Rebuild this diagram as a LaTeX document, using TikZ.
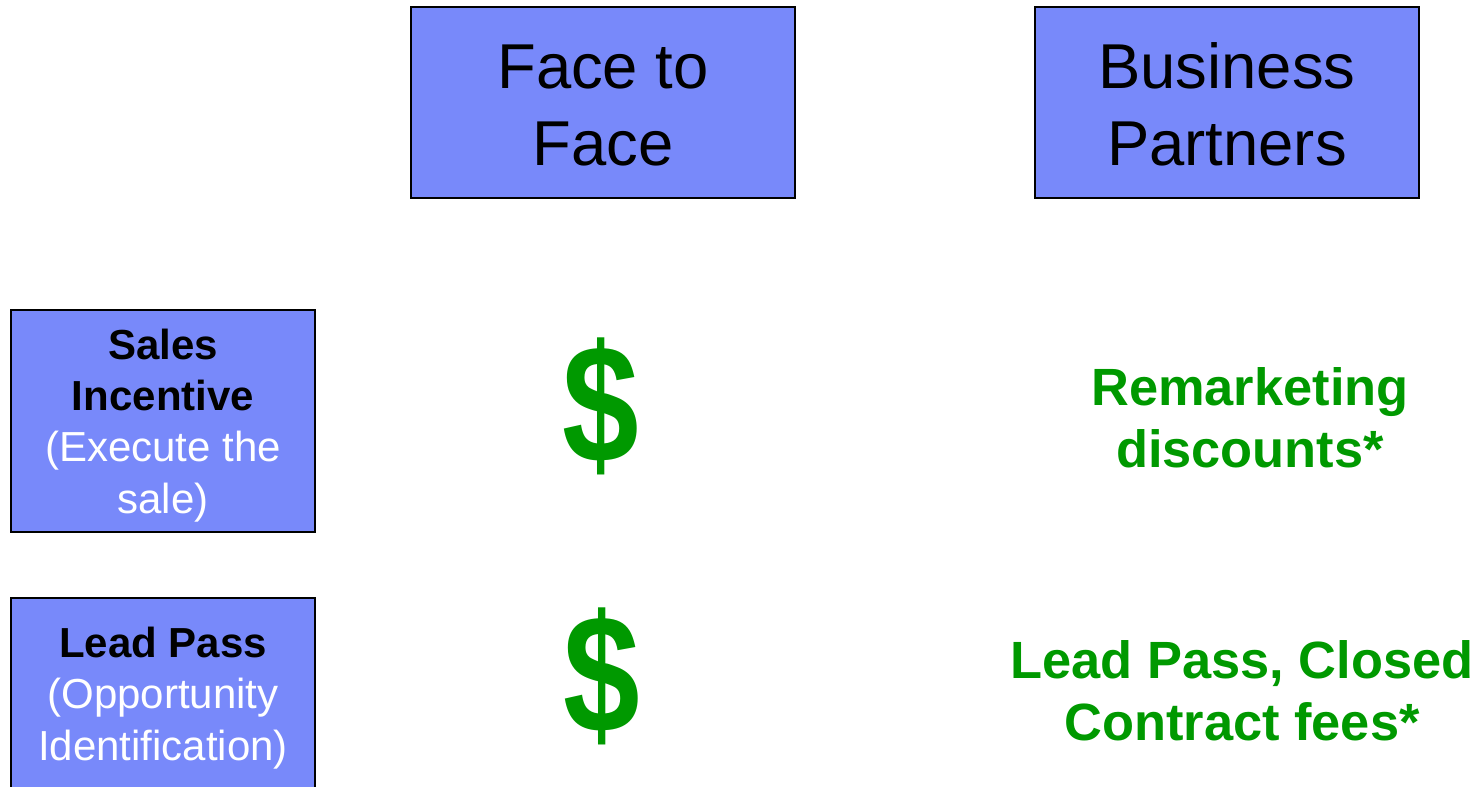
\documentclass[tikz,border=0pt]{standalone}
\usepackage{graphicx}
\usepackage{fontspec}
\setmainfont{Liberation Sans}
\definecolor{boxblue}{RGB}{120,137,250}
\definecolor{paygreen}{RGB}{0,153,0}
\newcommand{\paysign}{\scalebox{0.82}[1]{\$}}
\begin{document}
\begin{tikzpicture}[x=0.5pt,y=-0.5pt,
  box/.style={draw=black,line width=1.3pt,fill=boxblue},
  headtext/.style={anchor=base,align=center,font=\fontsize{31.7}{38.5}\selectfont},
  rowtext/.style={anchor=base,align=center,font=\fontsize{21}{25.6}\selectfont},
  paytext/.style={anchor=base,align=center,text=paygreen,font=\bfseries\fontsize{26.2}{31}\selectfont},
  dollar/.style={text=paygreen,inner sep=0pt,font=\bfseries\fontsize{84}{86}\selectfont}]
\useasboundingbox (0,0) rectangle (1484,787);
\clip (0,0) rectangle (1484,787);
% column headers (text anchored at the baseline of the last line)
\draw[box] (411,7) rectangle (795,198);
\draw[box] (1035,7) rectangle (1419,198);
\node[headtext] (ff) at (603,165) {Face to\\Face};
\node[headtext] (bp) at (1227,165) {Business\\Partners};
% row headers
\draw[box] (11,310) rectangle (315,532);
\draw[box] (11,598) rectangle (315,820);
\node[rowtext] (si) at (163,513) {\textbf{Sales}\\\textbf{Incentive}\\\textcolor{white}{(Execute the}\\\textcolor{white}{sale)}};
\node[rowtext] (lp) at (163,760) {\textbf{Lead Pass}\\\textcolor{white}{(Opportunity}\\\textcolor{white}{Identification)}};
% payments
\node[dollar] (d1) at (601,406.5) {\paysign};
\node[dollar] (d2) at (602,676.5) {\paysign};
\node[paytext] (rm) at (1250,467) {Remarketing\\discounts*};
\node[paytext] (cf) at (1242,740) {Lead Pass, Closed\\Contract fees*};
\end{tikzpicture}
\end{document}
